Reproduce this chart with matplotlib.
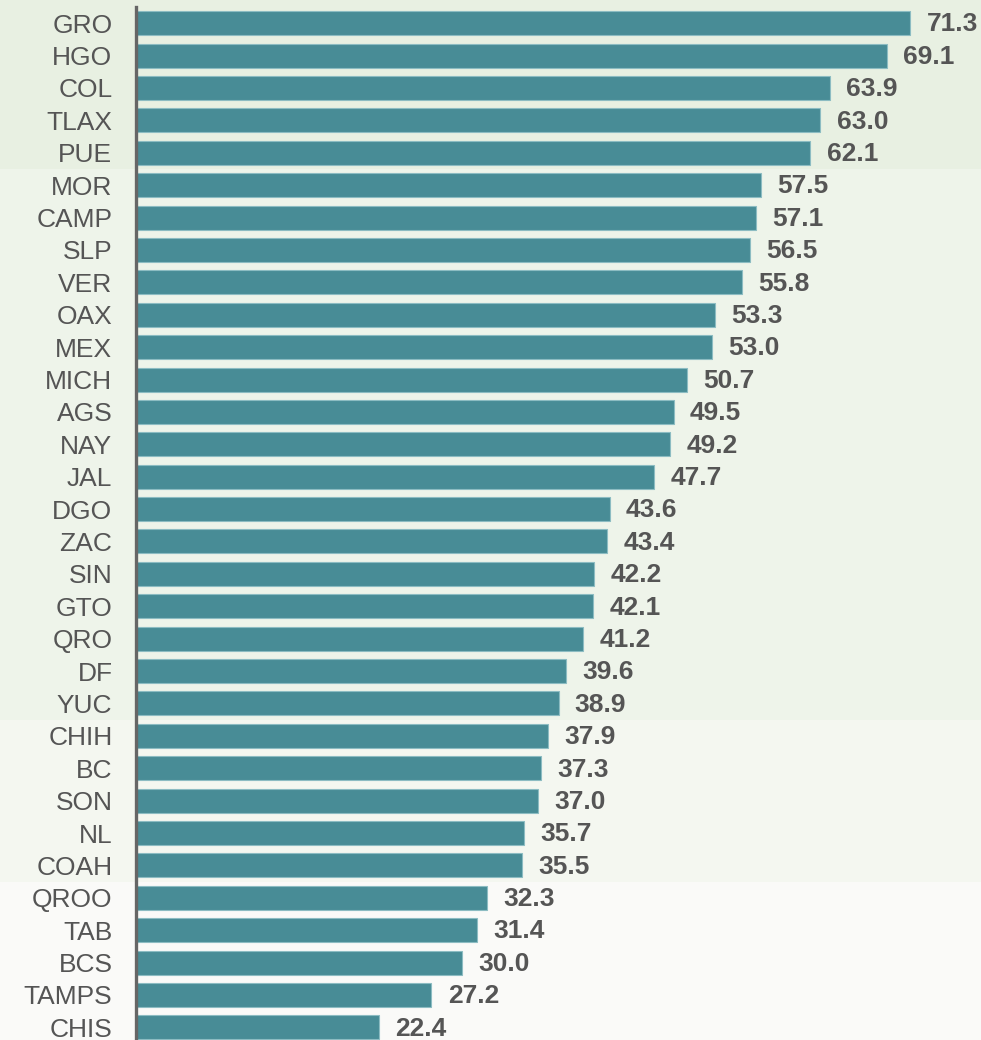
import matplotlib
matplotlib.use("Agg")
import matplotlib.pyplot as plt
import matplotlib.transforms as mtransforms
from matplotlib.patches import Rectangle

states = ["GRO", "HGO", "COL", "TLAX", "PUE", "MOR", "CAMP", "SLP", "VER", "OAX",
          "MEX", "MICH", "AGS", "NAY", "JAL", "DGO", "ZAC", "SIN", "GTO", "QRO",
          "DF", "YUC", "CHIH", "BC", "SON", "NL", "COAH", "QROO", "TAB", "BCS",
          "TAMPS", "CHIS"]
values = [71.3, 69.1, 63.9, 63.0, 62.1, 57.5, 57.1, 56.5, 55.8, 53.3,
          53.0, 50.7, 49.5, 49.2, 47.7, 43.6, 43.4, 42.2, 42.1, 41.2,
          39.6, 38.9, 37.9, 37.3, 37.0, 35.7, 35.5, 32.3, 31.4, 30.0,
          27.2, 22.4]
# background bands: (first row, last row, colour)
bands = [(0, 4, "#e8f0e2"), (5, 21, "#eef4ea"), (22, 26, "#f4f7f0"), (27, 31, "#fafaf8")]

plt.rcParams["font.family"] = ["Liberation Sans", "DejaVu Sans"]

fig = plt.figure(figsize=(9.81, 10.40), dpi=100)
ax = fig.add_axes([136 / 981, 0.0, 1 - 136 / 981, 1 - 7 / 1040])
ax.set_facecolor("none")

trans = mtransforms.blended_transform_factory(fig.transFigure, ax.transData)
for i, (a, b, c) in enumerate(bands):
    y0 = a - 0.5 if i > 0 else a - 2
    y1 = b + 0.5 if i < len(bands) - 1 else b + 2
    fig.patches.append(Rectangle((0, y0), 1, y1 - y0, transform=trans,
                                 facecolor=c, edgecolor="none", zorder=-10))

ypos = list(range(len(states)))
ax.barh(ypos, values, height=0.74, color="#488c96", edgecolor="#8cbcc2", linewidth=0.8)
for y, v in zip(ypos, values):
    ax.text(v + 1.5, y + 0.04, f"{v:.1f}", va="center", ha="left", fontsize=19,
            fontweight="bold", color="#555555")

ax.set_ylim(31.39, -0.5)
ax.set_xlim(0, 77.8)
ax.set_yticks(ypos)
ax.set_yticklabels(states, fontsize=19, color="#555555")
ax.tick_params(axis="y", length=0, pad=17)
ax.set_xticks([])
for s in ["top", "right", "bottom"]:
    ax.spines[s].set_visible(False)
ax.spines["left"].set_color("#666666")
ax.spines["left"].set_linewidth(2.4)

fig.savefig("out.png", dpi=100)
